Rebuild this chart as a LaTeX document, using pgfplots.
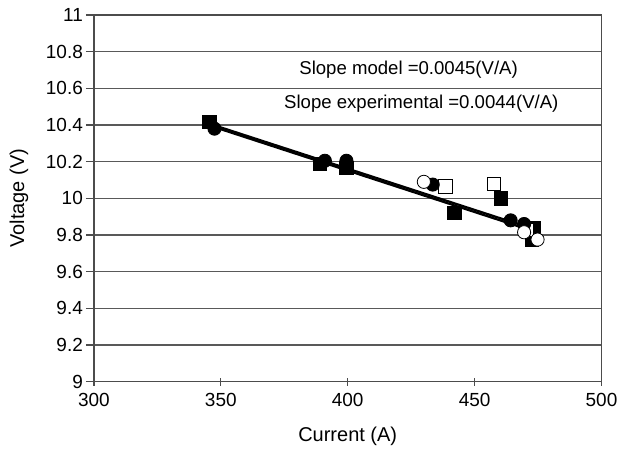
\documentclass[border=0pt]{standalone}
\usepackage{fontspec}
\setmainfont{Liberation Sans}
\usepackage{pgfplots}
\pgfplotsset{compat=1.18}

\begin{document}
\begin{tikzpicture}
\begin{axis}[
    scale only axis,
    width=254pt, height=183.5pt,
    xmin=300, xmax=500, ymin=9, ymax=11,
    xtick={300,350,...,500},
    ytick={9,9.2,...,11.01},
    xtick pos=bottom, ytick pos=left,
    /pgf/number format/assume math mode=true,
    ymajorgrids,
    grid style={black!65, line width=0.6pt},
    axis line style={black!70, line width=0.6pt},
    tick style={black!70, line width=0.6pt},
    xtick align=center, ytick align=outside,
    major tick length=4pt,
    tick label style={font=\fontsize{9.5}{11}\selectfont},
    yticklabel style={xshift=2pt, /pgf/number format/.cd, fixed, precision=1},
    label style={font=\fontsize{10.3}{12}\selectfont},
    xlabel={Current (A)}, ylabel={Voltage (V)},
    every axis y label/.style={at={(axis description cs:-0.1476,0.5)},rotate=90,anchor=center},
    every axis x label/.style={at={(axis description cs:0.5,-0.15)},anchor=center},
    clip=false
]
% fitted lines
\addplot[black, line width=1.1pt] coordinates {(344,10.414) (472,9.838)};
\addplot[black, line width=1.1pt] coordinates {(344,10.404) (472,9.826)};
% filled squares
\addplot[only marks, mark=square*, mark size=3.3pt, black] coordinates {
 (345.5,10.415) (389,10.19) (399.5,10.165) (442,9.92) (460.5,10.0) (473.5,9.84) (472.5,9.775)};
% open squares
\addplot[only marks, mark=square*, mark size=3.3pt, draw=black, fill=white] coordinates {
 (438.5,10.065) (457.5,10.08) (470.5,9.83)};
% filled circles
\addplot[only marks, mark=*, mark size=3.3pt, black] coordinates {
 (347.5,10.38) (391,10.205) (399.5,10.205) (433.5,10.075) (464.2,9.88) (469.5,9.86)};
% open circles
\addplot[only marks, mark=*, mark size=3.3pt, draw=black, fill=white] coordinates {
 (430,10.09) (469.5,9.815) (474.8,9.775)};
\node[font=\fontsize{9.3}{11}\selectfont] at (axis cs:424,10.70) {Slope model =0.0045(V/A)};
\node[font=\fontsize{9.3}{11}\selectfont] at (axis cs:429,10.515) {Slope experimental =0.0044(V/A)};
% page margins
\path (rel axis cs:0,0) ++(-47pt,-33.5pt) coordinate (bl);
\path (rel axis cs:1,1) ++(11pt,7.5pt) coordinate (tr);
\path (bl) rectangle (tr);
\end{axis}
\end{tikzpicture}
\end{document}
